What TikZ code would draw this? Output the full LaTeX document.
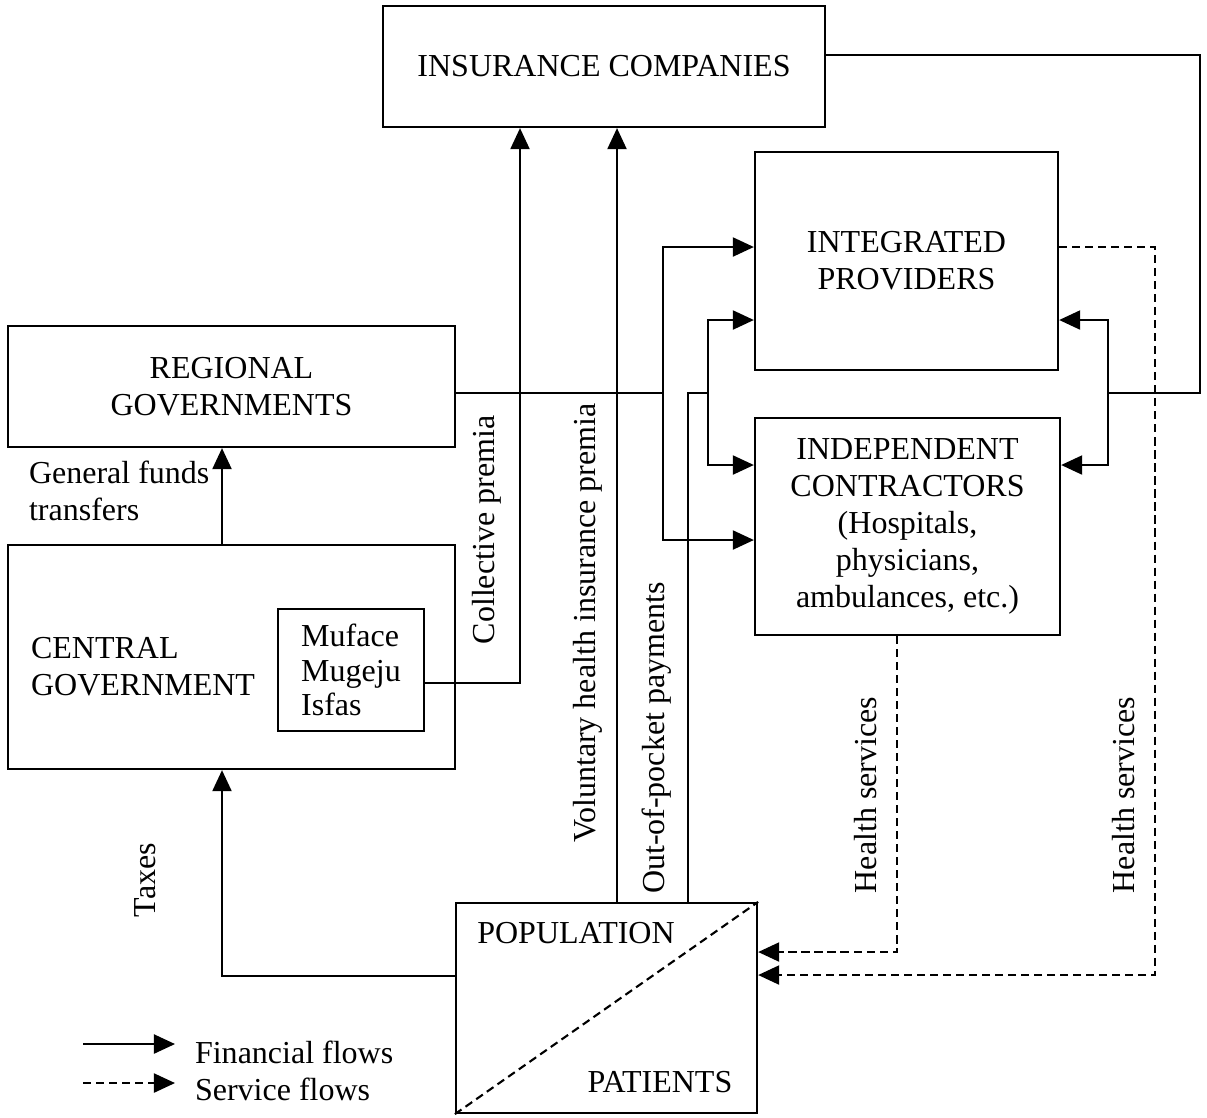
\documentclass[tikz,border=0pt]{standalone}
\usepackage{fontspec}
\setmainfont{Liberation Serif}
\usetikzlibrary{arrows.meta}

\begin{document}
\begin{tikzpicture}[x=0.01cm, y=-0.01cm, line width=0.6pt,
    font=\fontsize{9.1pt}{10.5pt}\selectfont,
    agent/.style ={draw, inner sep=0pt, align=center},
    money/.style ={-{Triangle[length=2.1mm,width=1.9mm]}},
    care/.style ={dash pattern=on 2.3pt off 1.4pt, -{Triangle[length=2.1mm,width=1.9mm]}},
    flowlabel/.style ={rotate=90},
    leftlabel/.style ={anchor=west, inner sep=0pt, align=left}]
   \useasboundingbox (0,0) rectangle (1207,1117);
   % boxes
   \node[agent, minimum width=4.42cm, minimum height=1.21cm] (ins) at (604,66.5) {INSURANCE COMPANIES};
   \node[agent, minimum width=3.03cm, minimum height=2.18cm] (intp) at (906.5,261) {INTEGRATED\\PROVIDERS};
   \node[agent, minimum width=3.05cm, minimum height=2.17cm] (indc) at (907.5,526.5)
      {INDEPENDENT\\CONTRACTORS\\(Hospitals,\\physicians,\\ambulances, etc.)};
   \node[agent, minimum width=4.47cm, minimum height=1.21cm] (reg) at (231.5,386.5) {REGIONAL\\GOVERNMENTS};
   \node[agent, minimum width=4.47cm, minimum height=2.24cm] (cen) at (231.5,657) {};
   \node[leftlabel] (cenname) at (30,667) {CENTRAL\\GOVERNMENT};
   \node[agent, minimum width=1.46cm, minimum height=1.22cm, align=left,
      font=\fontsize{9.1pt}{9.9pt}\selectfont] (muf) at (351,670) {Muface\\Mugeju\\Isfas};
   \node[agent, minimum width=3.01cm, minimum height=2.10cm] (pop) at (606.5,1008) {};
   \node (popname) at (576,933) {POPULATION};
   \node (patname) at (660,1082) {PATIENTS};
   \draw[care, -] (pop.south west) -- (pop.north east);

   % junctions of the flow lines
   \coordinate (jreg) at (663,393);
   \coordinate (jpoc) at (708,393);
   \coordinate (jins) at (1108,393);
   \coordinate (rim) at (1200,393);
   \coordinate (dcorner) at (1155,975);

   % financial flows
   \draw[money] (cen.north -| 222,0) -- (reg.south -| 222,0);
   \draw[money] (pop.west |- 0,976) -| (cen.south -| 222,0);
   \draw[money] (muf.east |- 0,683) -| (ins.south -| 520,0);
   \draw[money] (pop.north -| 617,0) -- (ins.south -| 617,0);
   \draw (reg.east |- jreg) -- (jreg);
   \draw[money] (jreg) |- (intp.west |- 0,247);
   \draw[money] (jreg) |- (indc.west |- 0,540);
   \draw (pop.north -| 688,0) |- (jpoc);
   \draw[money] (jpoc) |- (intp.west |- 0,320);
   \draw[money] (jpoc) |- (indc.west |- 0,465);
   \draw (ins.east |- 0,55) -| (rim) -- (jins);
   \draw[money] (jins) |- (intp.east |- 0,320);
   \draw[money] (jins) |- (indc.east |- 0,465);

   % service flows
   \draw[care] (intp.east |- 0,247) -| (dcorner) -- (pop.east |- dcorner);
   \draw[care] (indc.south -| 897,0) |- (pop.east |- 0,952);

   % flow labels
   \node[leftlabel] (gft) at (28,491) {General funds\\transfers};
   \node[flowlabel] (colp) at (487,530) {Collective premia};
   \node[flowlabel] (volp) at (588,623) {Voluntary health insurance premia};
   \node[flowlabel] (oop) at (657,738) {Out-of-pocket payments};
   \node[flowlabel] (hs1) at (866,795) {Health services};
   \node[flowlabel] (hs2) at (1124,795) {Health services};
   \node[flowlabel] (tax) at (145,880) {Taxes};

   % legend
   \coordinate (lf0) at (83,1044);
   \coordinate (lf1) at (175,1044);
   \coordinate (ls0) at (83,1083);
   \coordinate (ls1) at (175,1083);
   \draw[money] (lf0) -- (lf1);
   \draw[care] (ls0) -- (ls1);
   \node[leftlabel] (lfin) at (194,1052) {Financial flows};
   \node[leftlabel] (lser) at (194,1089) {Service flows};
\end{tikzpicture}
\end{document}
